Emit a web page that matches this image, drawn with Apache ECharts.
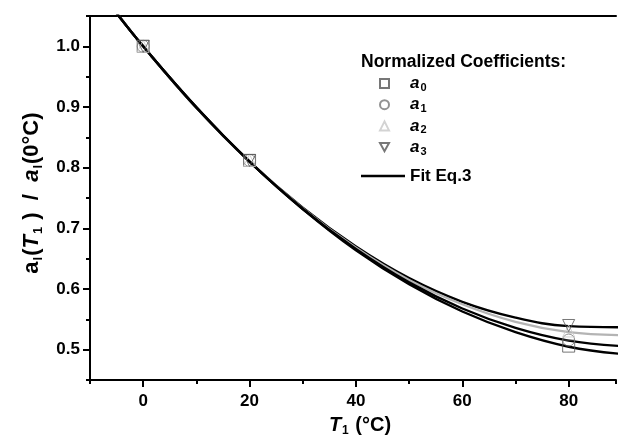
<!DOCTYPE html>
<html>
<head>
<meta charset="utf-8">
<script src="https://cdn.jsdelivr.net/npm/echarts@6/dist/echarts.min.js"></script>
<style>html,body{margin:0;padding:0;background:#fff}#c{width:619px;height:442px}</style>
</head>
<body>
<div id="c"></div>
<script>
// Fit curves (Eq.3)
const fitT = [-5, 0, 10, 20, 30, 40, 50, 60, 70, 80, 90];
const fitA3 = [1.055, 1.000, 0.899, 0.810, 0.734, 0.670, 0.618, 0.579, 0.553, 0.539, 0.537];
const fitA2 = [1.055, 1.000, 0.899, 0.810, 0.733, 0.668, 0.615, 0.575, 0.546, 0.529, 0.524];
const fitA1 = [1.055, 1.000, 0.899, 0.810, 0.732, 0.666, 0.611, 0.568, 0.536, 0.515, 0.506];
const fitA0 = [1.054, 1.000, 0.900, 0.810, 0.732, 0.664, 0.608, 0.563, 0.529, 0.505, 0.493];
// Normalized coefficients (markers)
const ptT = [0, 20, 80];
const ptA0 = [1.000, 0.812, 0.506];
const ptA1 = [1.000, 0.812, 0.516];
const ptA2 = [1.000, 0.812, 0.531];
const ptA3 = [1.000, 0.812, 0.540];
// Axis ticks
const xLabelVals = [0, 20, 40, 60, 80];
const yLabelVals = [0.5, 0.6, 0.7, 0.8, 0.9, 1.0];

const FONT = 'Arial, "Liberation Sans", Helvetica, sans-serif';
const pair = (xs, ys) => xs.map((x, i) => [x, ys[i]]);

const downTri = 'path://M0,0 L10,0 L5,9 Z';

function fitSeries(data, color) {
  return {
    name: 'Fit Eq.3', type: 'line', data: pair(fitT, data), smooth: 0.4,
    symbol: 'none', showSymbol: false, clip: true, z: 2,
    lineStyle: { color: color, width: 2.4 }, itemStyle: { color: color }
  };
}
function ptSeries(name, data, symbol, color) {
  return {
    name: name, type: 'scatter', data: pair(ptT, data), symbol: symbol, symbolSize: 12, z: 3,
    itemStyle: { color: 'rgba(255,255,255,0)', borderColor: color, borderWidth: 1 }
  };
}

const richLegend = {
  a: { fontFamily: FONT, fontSize: 17, fontWeight: 'bold', fontStyle: 'italic', color: '#000', lineHeight: 20, padding: [0, 0, 0, 16] },
  s: { fontFamily: FONT, fontSize: 11, fontWeight: 'bold', color: '#000', lineHeight: 2, verticalAlign: 'bottom', padding: [0, 0, 0, 1] }
};

const nameRich = (fs, ss) => ({
  a: { fontFamily: FONT, fontSize: fs, fontWeight: 'bold', color: '#000', lineHeight: fs + 4 },
  t: { fontFamily: FONT, fontSize: fs, fontWeight: 'bold', fontStyle: 'italic', color: '#000', lineHeight: fs + 4 },
  s: { fontFamily: FONT, fontSize: ss, fontWeight: 'bold', color: '#000', lineHeight: 6, verticalAlign: 'bottom', padding: [0, 1, 0, 1] },
  p: { fontFamily: FONT, fontSize: fs, fontWeight: 'bold', color: '#000', lineHeight: fs + 4 }
});

const chart = echarts.init(document.getElementById('c'), null, { renderer: 'canvas' });
const option = {
  animation: false,
  backgroundColor: '#fff',
  title: {
    text: 'Normalized Coefficients:', left: 361, top: 52, padding: 0,
    textStyle: { fontFamily: FONT, fontSize: 17.5, fontWeight: 'bold', color: '#000', lineHeight: 20 }
  },
  legend: [
    {
      data: ['a0', 'a1', 'a2', 'a3'], orient: 'vertical', left: 379, top: 75, padding: 0,
      itemWidth: 9, itemHeight: 9, itemGap: 2.7, selectedMode: false,
      formatter: n => '{a|a}{s|' + n.slice(1) + '}',
      textStyle: { rich: richLegend }
    },
    {
      data: [{ name: 'Fit Eq.3', icon: 'rect' }], orient: 'vertical', left: 361, top: 166, padding: 0,
      itemWidth: 44, itemHeight: 2.5, selectedMode: false,
      textStyle: { fontFamily: FONT, fontSize: 17, fontWeight: 'bold', color: '#000', lineHeight: 20 }
    }
  ],
  grid: { left: 90, right: 0, top: 16, bottom: 55, containLabel: false },
  xAxis: [
    {
      type: 'value', min: -10, max: 88.9, interval: 10, position: 'bottom',
      axisLine: { show: true, onZero: false, lineStyle: { color: '#000', width: 2 } },
      axisTick: { show: true, length: 4, lineStyle: { color: '#000', width: 2 } },
      splitLine: { show: false },
      axisLabel: {
        margin: 13, fontFamily: FONT, fontSize: 17, fontWeight: 'bold', color: '#000',
        formatter: v => (xLabelVals.indexOf(Math.round(v)) >= 0 && Math.abs(v - Math.round(v)) < 1e-6) ? String(Math.round(v)) : ''
      },
      name: '{t|T}{s|1}{p| (°C)}', nameLocation: 'middle', nameGap: 28,
      nameTextStyle: { padding: [0, 0, 0, 14], rich: nameRich(20, 12) }
    },
    {
      type: 'value', min: -10, max: 88.9, position: 'bottom',
      axisLine: { show: false, onZero: false },
      axisTick: { show: true, length: 7, customValues: xLabelVals, lineStyle: { color: '#000', width: 2 } },
      axisLabel: { show: false }, splitLine: { show: false }
    },
    {
      type: 'value', min: -10, max: 88.9, position: 'top',
      axisLine: { show: true, onZero: false, lineStyle: { color: '#000', width: 2 } },
      axisTick: { show: false }, axisLabel: { show: false }, splitLine: { show: false }
    }
  ],
  yAxis: [
    {
      type: 'value', min: 0.45, max: 1.05, interval: 0.05, position: 'left',
      axisLine: { show: true, onZero: false, lineStyle: { color: '#000', width: 2 } },
      axisTick: { show: true, length: 4, lineStyle: { color: '#000', width: 2 } },
      splitLine: { show: false },
      axisLabel: {
        margin: 10, fontFamily: FONT, fontSize: 17, fontWeight: 'bold', color: '#000',
        formatter: v => (Math.abs(Math.round(v * 10) - v * 10) < 1e-6) ? (Math.round(v * 10) / 10).toFixed(1) : ''
      },
      name: '{a|a}{s|l}{p|(}{t|T}{s|1}{p| )  /  }{t|a}{s|l}{p|(0°C)}', nameLocation: 'middle', nameGap: 45, nameRotate: 90,
      nameTextStyle: { padding: [0, 0, 0, 10], rich: nameRich(22, 13) }
    },
    {
      type: 'value', min: 0.45, max: 1.05, position: 'left',
      axisLine: { show: false, onZero: false },
      axisTick: { show: true, length: 7, customValues: yLabelVals, lineStyle: { color: '#000', width: 2 } },
      axisLabel: { show: false }, splitLine: { show: false }
    }
  ],
  series: [
    fitSeries(fitA3, '#000'),
    fitSeries(fitA2, '#b4b4b4'),
    fitSeries(fitA1, '#000'),
    fitSeries(fitA0, '#000'),
    ptSeries('a0', ptA0, 'rect', '#555'),
    ptSeries('a1', ptA1, 'circle', '#777'),
    ptSeries('a2', ptA2, 'triangle', '#c8c8c8'),
    ptSeries('a3', ptA3, downTri, '#555')
  ]
};
chart.setOption(option);
</script>
</body>
</html>
